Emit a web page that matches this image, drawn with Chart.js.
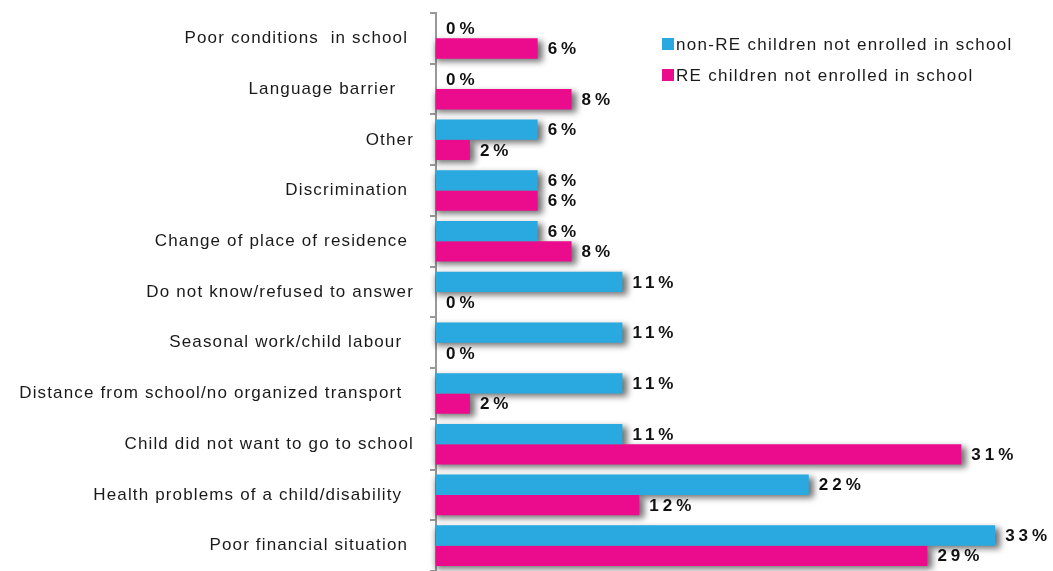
<!DOCTYPE html>
<html>
<head>
<meta charset="utf-8">
<script src="https://cdn.jsdelivr.net/npm/chart.js@4.4.1/dist/chart.umd.min.js"></script>
<style>
  html, body { margin: 0; padding: 0; background: #fff; }
  #wrap { width: 1053px; height: 571px; position: relative; }
</style>
</head>
<body>
<div id="wrap"><canvas id="reasons"></canvas></div>
<script>
const reasons = [
  "Poor conditions  in school ",
  "Language barrier   ",
  "Other",
  "Discrimination ",
  "Change of place of residence ",
  "Do not know/refused to answer",
  "Seasonal work/child labour  ",
  "Distance from school/no organized transport  ",
  "Child did not want to go to school",
  "Health problems of a child/disability  ",
  "Poor financial situation "
];
const nonRE = [0, 0, 6, 6, 6, 11, 11, 11, 11, 22, 33];
const RE = [6, 8, 2, 6, 8, 0, 0, 2, 31, 12, 29];
const seriesNames = ["non-RE children not enrolled in school", "RE children not enrolled in school"];
const seriesColors = ["#29a9e0", "#ea0c8c"];

const FONT = '"Liberation Sans", Arial, sans-serif';

// tracking for axis text, reset whenever the canvas gets resized
const tracking = {
  id: "tracking",
  beforeLayout(chart) { chart.ctx.letterSpacing = "1.15px"; },
  beforeDraw(chart) { chart.ctx.letterSpacing = "1.15px"; }
};

// soft grey drop shadow under every bar
const barShadow = {
  id: "barShadow",
  beforeDatasetsDraw(chart) {
    const ctx = chart.ctx;
    ctx.save();
    ctx.filter = "blur(3px)";
    ctx.fillStyle = "rgba(0,0,0,0.55)";
    chart.data.datasets.forEach((ds, i) => {
      chart.getDatasetMeta(i).data.forEach((bar) => {
        const len = bar.x - bar.base;
        if (len <= 0) return;
        ctx.fillRect(bar.base, bar.y - bar.height / 2 + 3, len + 5, bar.height);
      });
    });
    ctx.restore();
  }
};

const valueLabels = {
  id: "valueLabels",
  afterDatasetsDraw(chart) {
    const ctx = chart.ctx;
    ctx.save();
    ctx.font = "bold 17px " + FONT;
    ctx.letterSpacing = "4px";
    ctx.fillStyle = "#111";
    ctx.textAlign = "left";
    ctx.textBaseline = "middle";
    chart.data.datasets.forEach((ds, i) => {
      chart.getDatasetMeta(i).data.forEach((bar, j) => {
        ctx.fillText(ds.data[j] + "%", bar.x + 10, bar.y + 1);
      });
    });
    ctx.restore();
  }
};

const legendBox = {
  id: "legendBox",
  afterDraw(chart) {
    const ctx = chart.ctx;
    ctx.save();
    ctx.font = "17px " + FONT;
    ctx.letterSpacing = "1.3px";
    ctx.textBaseline = "middle";
    chart.data.datasets.forEach((ds, i) => {
      const y = 44 + i * 31;
      ctx.fillStyle = ds.backgroundColor;
      ctx.fillRect(662, y - 6, 12, 12);
      ctx.fillStyle = "#1a1a1a";
      ctx.fillText(ds.label, 676, y + 1);
    });
    ctx.restore();
  }
};

new Chart(document.getElementById("reasons"), {
  type: "bar",
  data: {
    labels: reasons,
    datasets: [
      { label: seriesNames[0], data: nonRE, backgroundColor: seriesColors[0] },
      { label: seriesNames[1], data: RE, backgroundColor: seriesColors[1] }
    ]
  },
  options: {
    indexAxis: "y",
    responsive: true,
    maintainAspectRatio: false,
    animation: false,
    datasets: { bar: { categoryPercentage: 0.8, barPercentage: 1 } },
    layout: { padding: { top: 13, right: 7, bottom: 0, left: 0 } },
    plugins: { legend: { display: false }, tooltip: { enabled: false } },
    scales: {
      x: { display: false, min: 0, max: 36 },
      y: {
        afterFit(scale) {
          scale.width = 436;
          scale.paddingTop = 0;
          scale.paddingBottom = 0;
        },
        border: { display: true, color: "#999", width: 2 },
        grid: { drawOnChartArea: false, drawTicks: true, tickLength: 6, color: "#999", lineWidth: 2 },
        ticks: { color: "#1a1a1a", padding: 16, font: { family: FONT, size: 17 } }
      }
    }
  },
  plugins: [tracking, barShadow, valueLabels, legendBox]
});
</script>
</body>
</html>
